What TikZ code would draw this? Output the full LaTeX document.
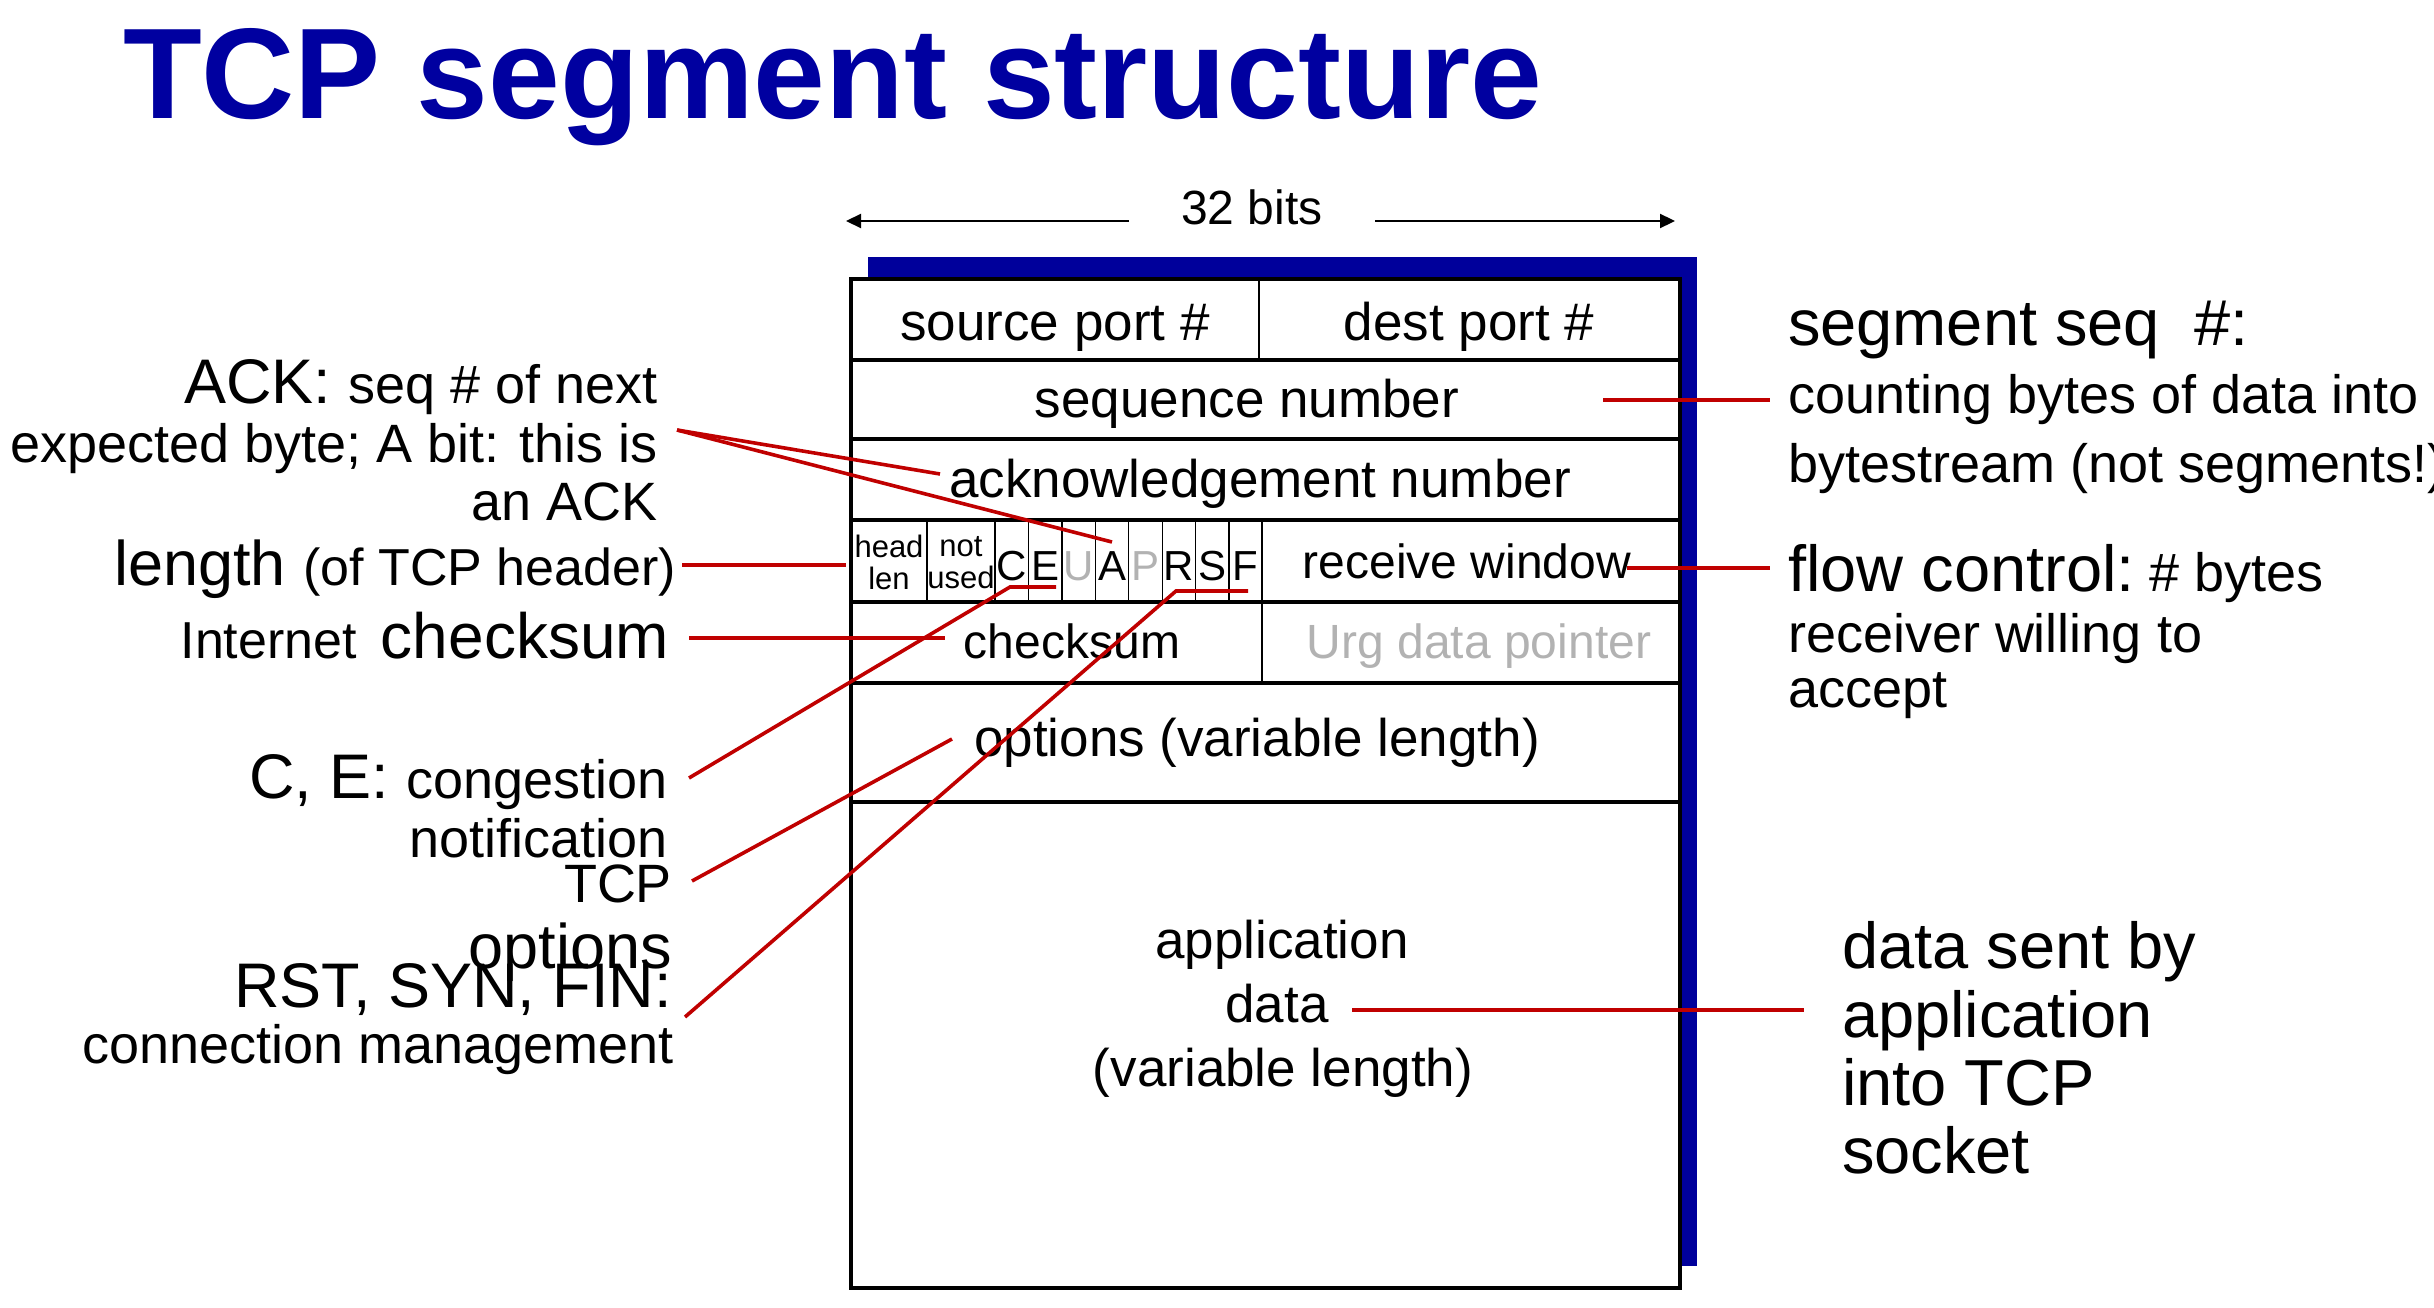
\documentclass[tikz,border=0pt]{standalone}
\usepackage{fontspec}
\setmainfont{Liberation Sans}
\usetikzlibrary{arrows.meta}
\definecolor{titleblue}{RGB}{0,0,160}
\definecolor{shadowblue}{RGB}{0,0,155}
\definecolor{linered}{RGB}{192,0,0}
\definecolor{dimgray}{RGB}{178,178,178}
\newcommand\bigsz{\fontsize{63}{68}\selectfont}
\newcommand\bigrsz{\fontsize{65}{70}\selectfont}
\newcommand\smsz{\fontsize{54}{58}\selectfont}
\newcommand\smlsz{\fontsize{52}{56}\selectfont}
\begin{document}
\begin{tikzpicture}[x=1pt,y=-1pt,
  lbl/.style={inner sep=0pt, outer sep=0pt},
  lblR/.style={lbl, anchor=base east},
  lblL/.style={lbl, anchor=base west},
  cell/.style={lbl, anchor=base, font=\fontsize{53}{60}\selectfont},
  cellsm/.style={lbl, anchor=base, font=\fontsize{48}{55}\selectfont},
  flag/.style={lbl, anchor=base, font=\fontsize{42}{48}\selectfont},
  tinytxt/.style={lbl, anchor=base, font=\fontsize{31}{34}\selectfont},
  frame/.style={line width=3.3pt},
  thinline/.style={line width=1.2pt},
  callout/.style={draw=linered, line width=3.6pt},
  dimarrow/.style={line width=2.2pt, -{Triangle[length=15pt,width=14pt]}},
]
\useasboundingbox (0,0) rectangle (2434,1308);
\fill[white] (0,0) rectangle (2434,1308);

% title
\node[lblL, font=\fontsize{129}{131}\selectfont\bfseries, text=titleblue] (title) at (123,119) {TCP segment structure};

% 32 bits
\node[lbl, anchor=base, font=\fontsize{48}{52}\selectfont] (bits) at (1252,225) {32 bits};
\coordinate (arrLs) at (1129,221);
\coordinate (arrLe) at (846,221);
\coordinate (arrRs) at (1375,221);
\coordinate (arrRe) at (1675,221);
\draw[dimarrow] (arrLs) -- (arrLe);
\draw[dimarrow] (arrRs) -- (arrRe);

% segment box
\fill[shadowblue] (868,257) rectangle (1697,1266);
\draw[frame, fill=white] (851,279) rectangle (1680,1288);
\foreach \yy in {360,439,520,602,683,802} \draw[frame] (851,\yy) -- (1680,\yy);
\draw[line width=2.4pt] (1259,279) -- (1259,360);
\draw[line width=2.4pt] (1262,520) -- (1262,683);
\foreach \xx in {927,995,1028.4,1061.9,1095.3,1128.8,1162.2,1195.6,1229} \draw[thinline] (\xx,520) -- (\xx,602);

% field texts
\node[cell] (srcport) at (1055,340) {source port \#};
\node[cell] (dstport) at (1469,340) {dest port \#};
\node[cell] (seqnum) at (1247,417) {sequence number};
\node[cell] (acknum) at (1260,497) {acknowledgement number};
\node[tinytxt] (head) at (889,557) {head};
\node[tinytxt] (hlen) at (889,589) {len};
\node[tinytxt] (notu) at (961,556) {not};
\node[tinytxt] (used) at (961,588) {used};
\node[flag] (fC) at (1011.7,580) {C};
\node[flag] (fE) at (1045.1,580) {E};
\node[flag, text=dimgray] (fU) at (1078.6,580) {U};
\node[flag] (fA) at (1112.0,580) {A};
\node[flag, text=dimgray] (fP) at (1145.5,580) {P};
\node[flag] (fR) at (1178.9,580) {R};
\node[flag] (fS) at (1212.3,580) {S};
\node[flag] (fF) at (1245.7,580) {F};
\node[cellsm] (rwnd) at (1467,578) {receive window};
\node[cellsm] (csum) at (1072,658) {checksum};
\node[cellsm, text=dimgray] (urg) at (1479,658) {Urg data pointer};
\node[cell] (opts) at (1257,756) {options (variable length)};
\node[cell] (app1) at (1282,958) {application};
\node[cell] (app2) at (1277,1022) {data};
\node[cell] (app3) at (1283,1086) {(variable length)};

% left annotations
\node[lblR] (ack1) at (658,403) {\bigsz ACK: \smsz seq \# of next};
\node[lblR] (ack2) at (658,462) {\smsz expected byte; A bit: this is};
\node[lblR] (ack3) at (658,520) {\smsz an ACK};
\node[lblR] (lenlbl) at (676,585) {\bigsz length \smlsz(of TCP header)};
\node[lblR] (cklbl) at (669,658) {\smlsz Internet\hspace{24pt}\fontsize{64}{68}\selectfont checksum};
\node[lblR] (ce1) at (668,798) {\bigsz C, E: \smsz congestion};
\node[lblR] (ce2) at (668,857) {\smsz notification};
\node[lblR] (op1) at (672,902) {\smsz TCP};
\node[lblR] (op2) at (672,968) {\bigsz options};
\node[lblR] (rsf1) at (672,1007) {\bigsz RST, SYN, FIN:};
\node[lblR] (rsf2) at (674,1063) {\smsz connection management};

% right annotations
\node[lblL] (seg1) at (1788,345) {\bigrsz segment seq\hspace{34pt}\#:};
\node[lblL] (seg2) at (1788,413) {\smsz counting bytes of data into};
\node[lblL] (seg3) at (1788,482) {\smsz bytestream (not segments!)};
\node[lblL] (fc1) at (1788,591) {\bigrsz flow control:\smsz\ \# bytes};
\node[lblL] (fc2) at (1788,652) {\smsz receiver willing to};
\node[lblL] (fc3) at (1788,707) {\smsz accept};
\node[lblL] (ds1) at (1842,968) {\bigrsz data sent by};
\node[lblL] (ds2) at (1842,1037) {\bigrsz application};
\node[lblL] (ds3) at (1842,1105) {\bigrsz into TCP};
\node[lblL] (ds4) at (1842,1173) {\bigrsz socket};

% callout end points
\coordinate (ackS) at (677,430);
\coordinate (ackT1) at (940,474);
\coordinate (ackT2) at (1112,542);
\coordinate (lenS) at (682,565);
\coordinate (lenT) at (846,565);
\coordinate (ckS) at (689,638);
\coordinate (ckT) at (945,638);
\coordinate (ceS) at (689,778);
\coordinate (ceK) at (1010,587);
\coordinate (ceT) at (1056,587);
\coordinate (opS) at (692,881);
\coordinate (opT) at (952,739);
\coordinate (rsS) at (685,1017);
\coordinate (rsK) at (1176,591);
\coordinate (rsT) at (1248,591);
\coordinate (sqS) at (1603,400);
\coordinate (sqT) at (1770,400);
\coordinate (rwS) at (1627,568);
\coordinate (rwT) at (1770,568);
\coordinate (daS) at (1352,1010);
\coordinate (daT) at (1804,1010);

% callouts
\draw[callout] (ackS) -- (ackT1);
\draw[callout] (ackS) -- (ackT2);
\draw[callout] (lenS) -- (lenT);
\draw[callout] (ckS) -- (ckT);
\draw[callout] (ceS) -- (ceK) -- (ceT);
\draw[callout] (opS) -- (opT);
\draw[callout] (rsS) -- (rsK) -- (rsT);
\draw[callout] (sqS) -- (sqT);
\draw[callout] (rwS) -- (rwT);
\draw[callout] (daS) -- (daT);
\end{tikzpicture}
\end{document}
